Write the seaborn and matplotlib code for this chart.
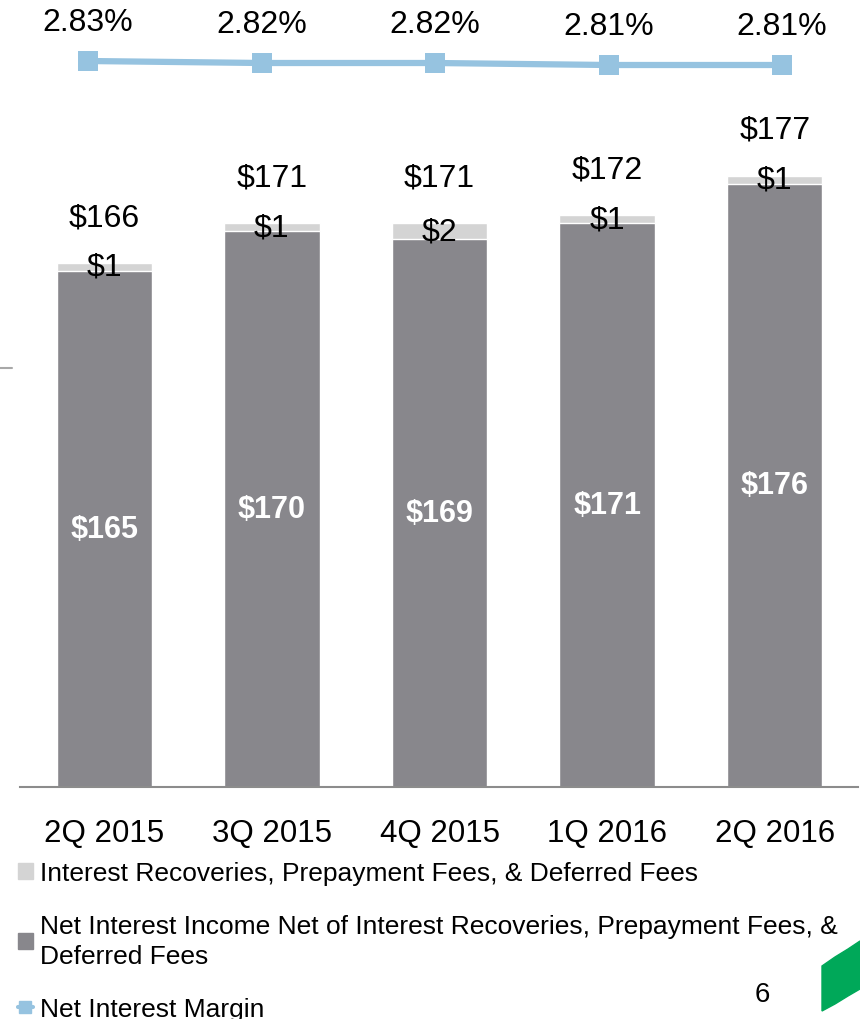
import numpy as np
import pandas as pd
import seaborn as sns
import matplotlib.pyplot as plt
from matplotlib.patches import Patch, Polygon
from matplotlib.lines import Line2D

# data
quarters = ['2Q 2015', '3Q 2015', '4Q 2015', '1Q 2016', '2Q 2016']
core_nii = [165, 170, 169, 171, 176]
recoveries = [1, 1, 2, 1, 1]
totals = [166, 171, 171, 172, 177]
nim = [2.83, 2.82, 2.82, 2.81, 2.81]

dark = '#88878c'
light = '#d4d4d4'
blue = '#96c3e0'

sns.set_style('white')
plt.rcParams['font.family'] = ['Liberation Sans', 'DejaVu Sans']
plt.rcParams['text.color'] = 'black'
plt.rcParams['xtick.color'] = 'black'

W, H = 860, 1020
fig = plt.figure(figsize=(8.6, 10.2), dpi=100)

# bar axes: baseline at y=788px, top at 170px
ax = fig.add_axes([20 / W, (H - 788) / H, 838 / W, (788 - 170) / H])
df = pd.DataFrame({'quarter': quarters, 'core': core_nii,
                   'total': np.array(core_nii) + np.array(recoveries)})
sns.barplot(data=df, x='quarter', y='total', color=light, width=0.57,
            saturation=1, ax=ax, errorbar=None)
sns.barplot(data=df, x='quarter', y='core', color=dark, width=0.57,
            saturation=1, ax=ax, errorbar=None)
ymin = 100
ax.set_ylim(ymin, ymin + (788 - 170) / 7.94)
ax.set_xlim(-84 / 167, 4 + 83 / 167)
for s in ['top', 'right', 'left']:
    ax.spines[s].set_visible(False)
ax.spines['bottom'].set_color('#8c8c8c')
ax.spines['bottom'].set_linewidth(1.5)
ax.set_yticks([])
ax.set_xlabel('')
ax.set_ylabel('')
ax.tick_params(axis='x', length=0, pad=22, labelsize=22.5)

for i in range(len(quarters)):
    # white labels centred in the visible dark part
    ax.text(i, (ymin + core_nii[i]) / 2, '$' + str(core_nii[i]), color='white',
            fontsize=22, fontweight='bold', ha='center', va='center')
    ax.text(i, core_nii[i] + recoveries[i] / 2, '$' + str(recoveries[i]),
            fontsize=23, ha='center', va='center')
    ax.annotate('$' + str(totals[i]), (i, totals[i]), xytext=(0, 33),
                textcoords='offset points', fontsize=23, ha='center',
                va='center', annotation_clip=False)

# margin line on its own strip at the top
ax2 = fig.add_axes([0, (H - 90) / H, 1, 50 / H])
ax2.patch.set_alpha(0)
sns.lineplot(x=np.arange(len(nim)), y=nim, ax=ax2, color=blue, lw=4.5,
             marker='s', markersize=14, markeredgewidth=0)
ax2.set_xlim(-88 / 173.5, 4 + 78 / 173.5)
ax2.set_ylim(2.69, 2.94)
ax2.axis('off')
for i, v in enumerate(nim):
    ax2.annotate('{:.2f}%'.format(v), (i, v), xytext=(0, 28),
                 textcoords='offset points', fontsize=23, ha='center',
                 va='center', annotation_clip=False)

# legend
handles = [Patch(color=light),
           Patch(color=dark),
           Line2D([0], [0], color=blue, lw=3, marker='s', markersize=9)]
labels = ['Interest Recoveries, Prepayment Fees, & Deferred Fees',
          'Net Interest Income Net of Interest Recoveries, Prepayment Fees, &\nDeferred Fees',
          'Net Interest Margin']
leg = fig.legend(handles, labels, loc='upper left', bbox_to_anchor=(18 / W, (H - 862) / H),
                 frameon=False, fontsize=19, handlelength=0.55, handleheight=0.55,
                 handletextpad=0.3, labelspacing=1.1, borderaxespad=0, borderpad=0)
leg.get_texts()[1].set_linespacing(1.3)

# slide bits
fig.text(762 / W, 1 - 995 / H, '6', fontsize=20, ha='center', va='center')
fig.add_artist(Line2D([0, 12 / W], [1 - 369 / H, 1 - 369 / H], color='#a8a8a8', lw=1.5))
green = [(822, 967), (835, 958), (848, 950), (860, 942), (860, 990),
         (848, 997), (835, 1005), (822, 1012)]
fig.add_artist(Polygon([(x / W, 1 - y / H) for x, y in green],
                       closed=True, color='#00a859', transform=fig.transFigure))

fig.savefig('out.png', dpi=100)
